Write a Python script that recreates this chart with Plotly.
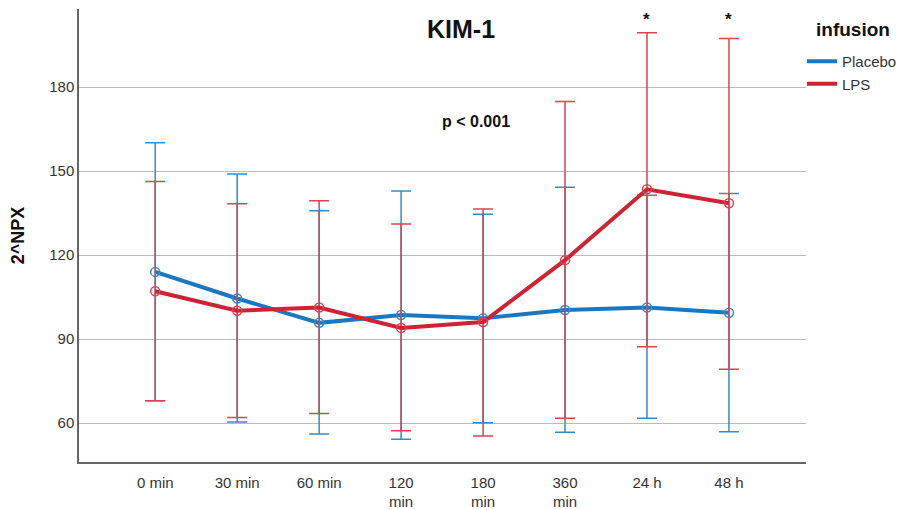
import plotly.graph_objects as go

categories = ["0 min", "30 min", "60 min", "120<br>min", "180<br>min", "360<br>min", "24 h", "48 h"]

placebo_mean = [114.0, 104.5, 95.8, 98.6, 97.4, 100.4, 101.3, 99.4]
placebo_upper = [160.1, 149.0, 135.8, 142.9, 134.6, 144.2, 141.4, 142.0]
placebo_lower = [68.0, 60.4, 56.1, 54.2, 60.1, 56.7, 61.7, 56.9]

lps_mean = [107.1, 100.1, 101.3, 94.0, 96.1, 118.2, 143.5, 138.5]
lps_upper = [146.3, 138.3, 139.4, 131.1, 136.5, 174.9, 199.4, 197.4]
lps_lower = [68.0, 62.0, 63.4, 57.3, 55.4, 61.7, 87.3, 79.2]

yticks = [60, 90, 120, 150, 180]
star_positions = [6, 7]

FONT = "Liberation Sans, Arial, sans-serif"
BLUE = "rgb(28,120,190)"
BLUE_ERR = "rgb(52,140,205)"
RED = "rgb(205,35,52)"
RED_ERR = "rgb(215,70,80)"

x_idx = list(range(len(categories)))

fig = go.Figure()

def add_series(name, mean, upper, lower, color, errcolor):
    fig.add_trace(go.Scatter(
        x=x_idx, y=mean, name=name, mode="lines+markers", showlegend=False,
        line=dict(color=color, width=4),
        marker=dict(symbol="circle-open", size=9, color=errcolor, line=dict(width=1.5, color=errcolor)),
        error_y=dict(type="data", symmetric=False,
                     array=[u - m for u, m in zip(upper, mean)],
                     arrayminus=[m - l for m, l in zip(mean, lower)],
                     color=errcolor, thickness=1.5, width=10),
    ))
    # legend entry (line only)
    fig.add_trace(go.Scatter(x=[None], y=[None], name=name, mode="lines",
                             line=dict(color=color, width=4), showlegend=True))

add_series("Placebo", placebo_mean, placebo_upper, placebo_lower, BLUE, BLUE_ERR)
add_series("LPS", lps_mean, lps_upper, lps_lower, RED, RED_ERR)

# page body has an 8px margin: figure is 896x502 placed at (8,8)
def px(xp):
    return (xp - 79) / 727

def py(yp):
    return (462 - yp) / 453

annotations = [
    dict(text="<b>KIM-1</b>", xref="paper", yref="paper", x=px(461), y=py(29),
         xanchor="center", yanchor="middle",
         showarrow=False, font=dict(size=25, color="#111", family=FONT)),
    dict(text="<b>p < 0.001</b>", xref="paper", yref="paper", x=px(476), y=py(121),
         xanchor="center", yanchor="middle",
         showarrow=False, font=dict(size=16, color="#111", family=FONT)),
    dict(text="<b>infusion</b>", xref="paper", yref="paper", x=px(814), y=py(29),
         xanchor="left", yanchor="middle",
         showarrow=False, font=dict(size=19, color="#111", family=FONT)),
]
for p in star_positions:
    annotations.append(dict(text="<b>*</b>", x=p, y=204.2, xref="x", yref="y",
                            xanchor="center", yanchor="middle",
                            showarrow=False, font=dict(size=17, color="#111", family=FONT)))

fig.update_layout(
    width=896, height=502,
    margin=dict(l=71, r=98, t=1, b=48, autoexpand=False),
    paper_bgcolor="white", plot_bgcolor="white",
    font=dict(family=FONT, color="#333"),
    annotations=annotations,
    legend=dict(x=px(802), y=py(45), xanchor="left", yanchor="top",
                font=dict(size=15, color="#333", family=FONT),
                tracegroupgap=0, itemwidth=30, bgcolor="rgba(0,0,0,0)"),
    showlegend=True,
)

fig.update_xaxes(
    tickmode="array", tickvals=x_idx, ticktext=categories,
    range=[-0.93, 7.94], showgrid=False, zeroline=False,
    showline=True, linecolor="#666", linewidth=1.5,
    ticks="", ticklabelstandoff=6, tickfont=dict(size=15, color="#333", family=FONT),
)
fig.update_yaxes(
    tickmode="array", tickvals=yticks, range=[46.1, 207.9],
    showgrid=True, gridcolor="#bbbbbb", gridwidth=1, zeroline=False,
    showline=True, linecolor="#666", linewidth=1.5,
    ticks="", tickfont=dict(size=15, color="#333", family=FONT),
    title=dict(text="<b>2^NPX</b>", font=dict(size=18, color="#111", family=FONT), standoff=20),
)

fig.write_html("out.html")
